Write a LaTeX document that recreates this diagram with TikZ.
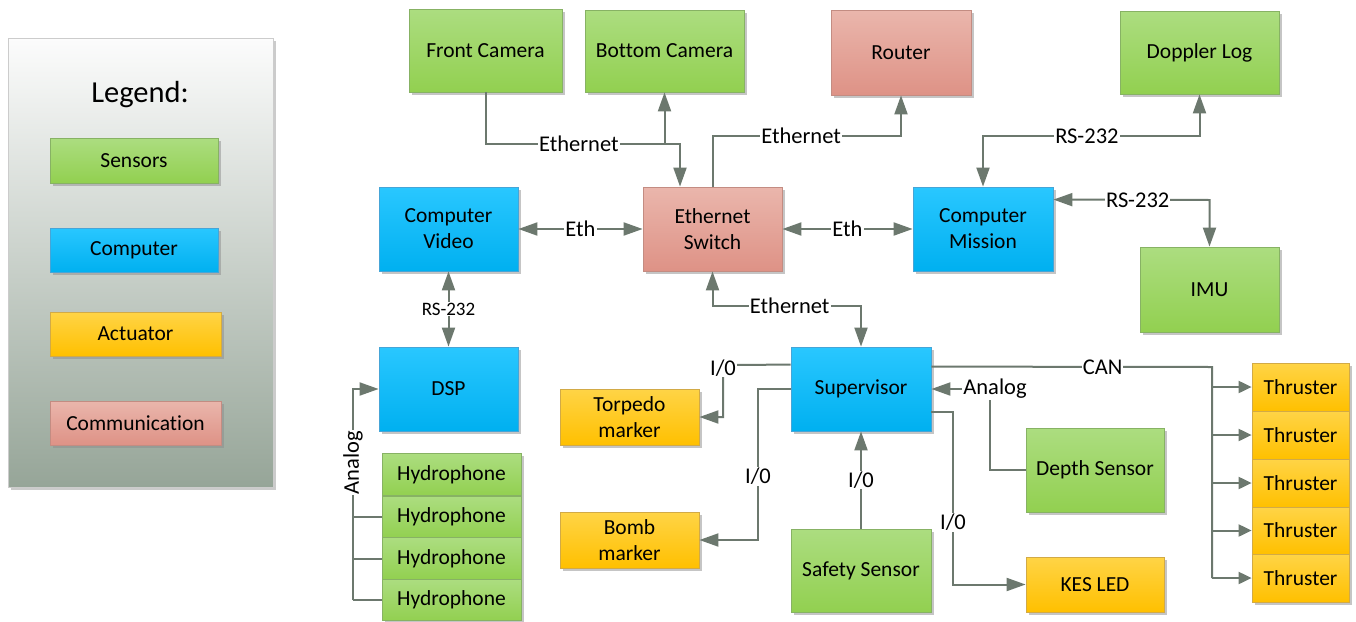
\documentclass[tikz,border=0pt]{standalone}
\usepackage{fontspec}
\setmainfont{Carlito}[Ligatures={NoCommon}]
\usetikzlibrary{arrows.meta,shadows,calc}
\definecolor{sensT}{RGB}{172,221,128}
\definecolor{sensB}{RGB}{146,208,80}
\definecolor{sensD}{RGB}{135,178,100}
\definecolor{compT}{RGB}{41,199,255}
\definecolor{compB}{RGB}{0,176,240}
\definecolor{compD}{RGB}{70,165,215}
\definecolor{actT}{RGB}{255,212,70}
\definecolor{actB}{RGB}{255,192,0}
\definecolor{actD}{RGB}{210,170,70}
\definecolor{comT}{RGB}{234,182,172}
\definecolor{comB}{RGB}{222,146,134}
\definecolor{comD}{RGB}{195,140,130}
\definecolor{legT}{RGB}{252,252,252}
\definecolor{legB}{RGB}{150,165,152}
\definecolor{lineC}{RGB}{108,120,110}
\newcommand\boxfont{\fontsize{21.5}{26}\selectfont}
\newcommand\lblfont{\fontsize{22.5}{26}\selectfont}
\newcommand\smallfont{\fontsize{19}{22}\selectfont}
\newcommand\legfont{\fontsize{30.5}{34}\selectfont}
\tikzset{
  >={Triangle[length=19pt,width=13pt]},
  thr/.tip={Triangle[length=13pt,width=12pt]},
  basebox/.style={draw=#1, line width=0.8pt, inner sep=2pt, align=center, font=\boxfont,
    text=black, drop shadow={shadow xshift=3pt, shadow yshift=-3pt, fill=black!45, opacity=0.5}},
  sens/.style={basebox=sensD, top color=sensT, bottom color=sensB},
  comp/.style={basebox=compD, top color=compT, bottom color=compB},
  act/.style={basebox=actD, top color=actT, bottom color=actB},
  comm/.style={basebox=comD, top color=comT, bottom color=comB},
  legbox/.style={draw=black!20, line width=0.8pt, top color=legT, bottom color=legB,
    drop shadow={shadow xshift=3pt, shadow yshift=-3pt, fill=black!40, opacity=0.5}},
  ln/.style={draw=lineC, line width=2pt},
  lbl/.style={fill=white, inner sep=1pt, font=\lblfont, text=black},
  slbl/.style={fill=white, inner sep=1pt, font=\smallfont, text=black},
}
\begin{document}
\begin{tikzpicture}[x=1pt,y=-1pt]
\useasboundingbox[fill=white] (0,0) rectangle (1356,621);

% Legend
\node[legbox, minimum width=265, minimum height=449] (leg) at (140.5,262.5) {};
\node[font=\legfont] (legt) at (140,95) {Legend:};
\node[sens, minimum width=168, minimum height=45] (l1) at (134,160.5) {Sensors};
\node[comp, minimum width=168, minimum height=44] (l2) at (134,250) {Computer};
\node[act, minimum width=171, minimum height=44] (l3) at (135.5,334) {Actuator};
\node[comm, minimum width=171, minimum height=44] (l4) at (135.5,423) {Communication};

% Boxes
\node[sens, minimum width=153, minimum height=83] (fc) at (485.5,50.5) {Front Camera};
\node[sens, minimum width=159, minimum height=82] (bc) at (664.5,51) {Bottom Camera};
\node[comm, minimum width=140, minimum height=85] (rt) at (901,52.5) {Router};
\node[sens, minimum width=159, minimum height=83] (dl) at (1199.5,52.5) {Doppler Log};
\node[comp, minimum width=139, minimum height=84] (cv) at (448.5,229) {Computer\\Video};
\node[comm, minimum width=139, minimum height=84] (es) at (712.5,229) {Ethernet\\Switch};
\node[comp, minimum width=140, minimum height=84] (cm) at (983,229) {Computer\\Mission};
\node[sens, minimum width=139, minimum height=85] (imu) at (1209.5,289.5) {IMU};
\node[comp, minimum width=139, minimum height=84] (dsp) at (448.5,389) {DSP};
\node[comp, minimum width=140, minimum height=84] (sup) at (861,389) {Supervisor};
\node[act, minimum width=139, minimum height=56] (tor) at (629.5,417) {Torpedo\\marker};
\node[act, minimum width=139, minimum height=56] (bomb) at (629.5,540) {Bomb\\marker};
\node[sens, minimum width=140, minimum height=83] (saf) at (861,570.5) {Safety Sensor};
\node[sens, minimum width=138, minimum height=84] (dep) at (1095,470) {Depth Sensor};
\node[act, minimum width=138, minimum height=55] (kes) at (1095,584.5) {KES LED};
\node[sens, minimum width=139, minimum height=42.5] (hy1) at (451.5,474.5) {Hydrophone};
\node[sens, minimum width=139, minimum height=42] (hy2) at (451.5,517) {Hydrophone};
\node[sens, minimum width=139, minimum height=41.5] (hy3) at (451.5,558.5) {Hydrophone};
\node[sens, minimum width=139, minimum height=41.5] (hy4) at (451.5,600) {Hydrophone};
\node[act, minimum width=97, minimum height=48] (th1) at (1300.5,387) {Thruster};
\node[act, minimum width=97, minimum height=48] (th2) at (1300.5,435) {Thruster};
\node[act, minimum width=97, minimum height=48] (th3) at (1300.5,483) {Thruster};
\node[act, minimum width=97, minimum height=47] (th4) at (1300.5,530.5) {Thruster};
\node[act, minimum width=97, minimum height=48] (th5) at (1300.5,578) {Thruster};

% Junction coordinates
\coordinate (c1) at (680,144);
\coordinate (c2) at (901,136);
\coordinate (c3) at (1199.5,136);
\coordinate (c4) at (1209.5,200);
\coordinate (c5) at (861,306);
\coordinate (c6) at (723,365);
\coordinate (c7) at (758,540);
\coordinate (c8) at (953,584.5);
\coordinate (c9) at (990,389);
\coordinate (c10) at (1212,367);
\coordinate (c11) at (353,389);

% Connectors
\draw[ln,->] (fc.south) |- node[lbl,pos=0.74]{Ethernet} (c1) -- (c1 |- es.north);
\draw[ln,->] (bc.south |- c1) -- (bc.south);
\draw[ln,->] (es.north) |- node[lbl,pos=0.735]{Ethernet} (c2) -- (rt.south);
\draw[ln,<->] (cv.east) -- node[lbl]{Eth} (es.west);
\draw[ln,<->] (es.east) -- node[lbl]{Eth} (cm.west);
\draw[ln,<->] (cm.north) |- node[lbl,pos=0.74]{RS-232} (c3) -- (dl.south);
\draw[ln,<->] ($(cm.north east)+(0,13)$) -- node[lbl,pos=0.54]{RS-232} (c4) -- (imu.north);
\draw[ln,<->] (cv.south) -- node[slbl]{RS-232} (dsp.north);
\draw[ln,<->] (es.south) |- node[lbl,pos=0.76]{Ethernet} (c5) -- (sup.north);
\draw[ln,->] ($(sup.north west)+(0,18)$) -- (c6) node[lbl,yshift=-3pt]{I/0} -- (c6 |- tor.east) -- (tor.east);
\draw[ln,->] (sup.west) -| node[lbl,pos=0.79]{I/0} (c7) -- (bomb.east);
\draw[ln,->] (saf.north) -- node[lbl]{I/0} (sup.south);
\draw[ln,->] ($(sup.south east)+(0,-19)$) -| node[lbl,pos=0.82]{I/0} (c8) -- (kes.west);
\draw[ln,->] (dep.west) -| (c9) node[lbl,xshift=5pt]{Analog} -- (sup.east);
\draw[ln] ($(sup.north east)+(0,20)$) -- node[lbl,pos=0.61]{CAN} (c10) -- (c10 |- th5.west);
\foreach \i in {1,...,5} {
  \draw[ln,-thr] (c10 |- th\i.west) -- (th\i.west);
}
\draw[ln,->] (c11 |- hy4.west) -- node[lbl,rotate=90,pos=0.65]{Analog} (c11) -- (dsp.west);
\foreach \i in {2,3,4} {
  \draw[ln] (c11 |- hy\i.west) -- (hy\i.west);
}
\end{tikzpicture}
\end{document}
